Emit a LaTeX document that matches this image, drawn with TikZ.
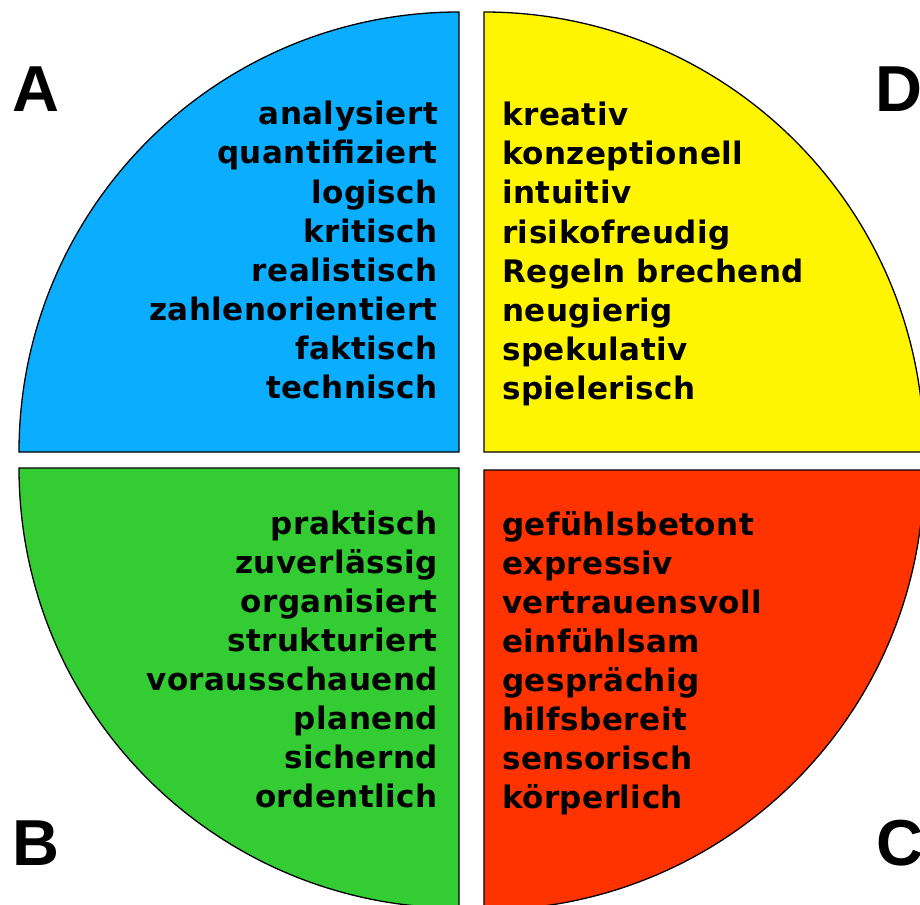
\documentclass[tikz,border=0pt]{standalone}
\usepackage{fontspec}
\setmainfont{DejaVu Sans}
\newfontfamily\wordfont[LetterSpace=1.5]{DejaVu Sans}
\newfontfamily\letterfont{Liberation Sans}
\definecolor{quadA}{HTML}{0BAEFF}
\definecolor{quadB}{HTML}{33CC33}
\definecolor{quadC}{HTML}{FF3300}
\definecolor{quadD}{HTML}{FFF500}
\begin{document}
\begin{tikzpicture}[x=1pt,y=-1pt,
  quadrant/.style={draw=black, line width=1.3pt},
  word/.style={font=\wordfont\fontsize{31}{36}\selectfont\bfseries, inner sep=0pt},
  corner/.style={font=\letterfont\fontsize{65}{70}\selectfont\bfseries, inner sep=0pt}]
\useasboundingbox (0,0) rectangle (920,904);
% the four quarters
\draw[quadrant, fill=quadA] (19,452) arc[start angle=180, end angle=90, radius=440pt] -- (459,452) -- cycle;
\draw[quadrant, fill=quadD] (484,12) arc[start angle=90, end angle=0, radius=440pt] -- (484,452) -- cycle;
\draw[quadrant, fill=quadB] (19,468) arc[start angle=180, end angle=270, radius=440pt] -- (459,468) -- cycle;
\draw[quadrant, fill=quadC] (484,910) arc[start angle=270, end angle=360, radius=440pt] -- (484,470) -- cycle;
% words
\foreach \w [count=\i] in {analysiert, quantifiziert, logisch, kritisch, realistisch, zahlenorientiert, faktisch, technisch}
  \node[word, anchor=base east] (a\i) at (438, 86+39*\i) {\w};
\foreach \w [count=\i] in {kreativ, konzeptionell, intuitiv, risikofreudig, Regeln brechend, neugierig, spekulativ, spielerisch}
  \node[word, anchor=base west] (d\i) at (502, 87+39*\i) {\w};
\foreach \w [count=\i] in {praktisch, zuverlässig, organisiert, strukturiert, vorausschauend, planend, sichernd, ordentlich}
  \node[word, anchor=base east] (b\i) at (438, 495+39*\i) {\w};
\foreach \w [count=\i] in {gefühlsbetont, expressiv, vertrauensvoll, einfühlsam, gesprächig, hilfsbereit, sensorisch, körperlich}
  \node[word, anchor=base west] (c\i) at (502, 496+39*\i) {\w};
% corner letters
\node[corner, anchor=base west] (labA) at (12,112) {A};
\node[corner, anchor=base west] (labD) at (875,112) {D};
\node[corner, anchor=base west] (labB) at (12,865) {B};
\node[corner, anchor=base west] (labC) at (876,865) {C};
\end{tikzpicture}
\end{document}
